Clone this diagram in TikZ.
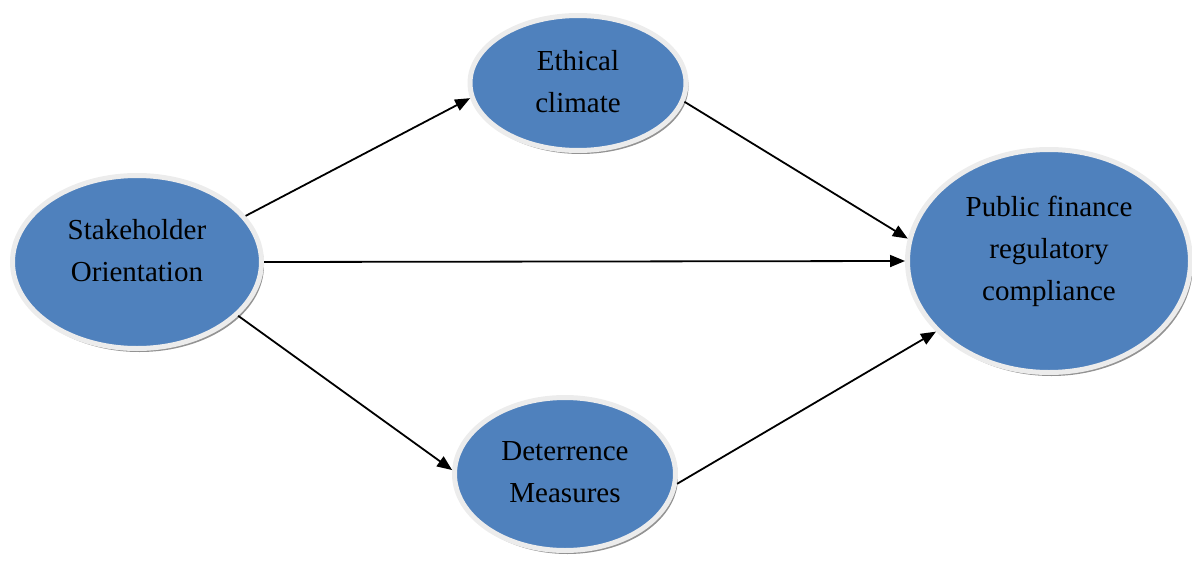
\documentclass[tikz,border=0pt]{standalone}
\usepackage{fontspec}
\setmainfont{Liberation Serif}
\usetikzlibrary{shapes.geometric,arrows.meta,shadows}
\definecolor{bubblefill}{HTML}{4F81BD}
\definecolor{ringcol}{HTML}{ECECEC}
\newcommand{\bubtext}[2]{\raisebox{#1}[0pt][0pt]{\fontsize{29}{42}\selectfont\begin{tabular}{@{}c@{}}#2\end{tabular}}}
\tikzset{
  bubble/.style={ellipse, fill=bubblefill, draw=ringcol, line width=5pt, inner sep=0pt,
    drop shadow={shadow xshift=2.5pt, shadow yshift=-3.5pt, fill=black!50, opacity=0.85}},
  link/.style={line width=1.8pt, -{Triangle[length=15pt,width=12pt]}}
}
\begin{document}
\begin{tikzpicture}[x=1pt,y=-1pt]
\useasboundingbox (0,0) rectangle (1192,562);
\node[bubble, minimum width=249pt, minimum height=173pt] (s) at (137,262) {\bubtext{4pt}{Stakeholder\\Orientation}};
\node[bubble, minimum width=216pt, minimum height=135pt] (e) at (578,83) {\bubtext{-6pt}{Ethical\\climate}};
\node[bubble, minimum width=221pt, minimum height=153pt] (d) at (565,474) {\bubtext{-5pt}{Deterrence\\Measures}};
\node[bubble, minimum width=283pt, minimum height=223pt] (p) at (1049,261) {\bubtext{5pt}{Public finance\\regulatory\\compliance}};
\draw[link] (s.23) -- (e.188);
\draw[link] (e.-10) -- (p.171);
\draw[link] (s.0) -- (p.180);
\draw[link] (s.-28) -- (d.178);
\draw[link] (d.-5) -- (p.212);
\end{tikzpicture}
\end{document}
